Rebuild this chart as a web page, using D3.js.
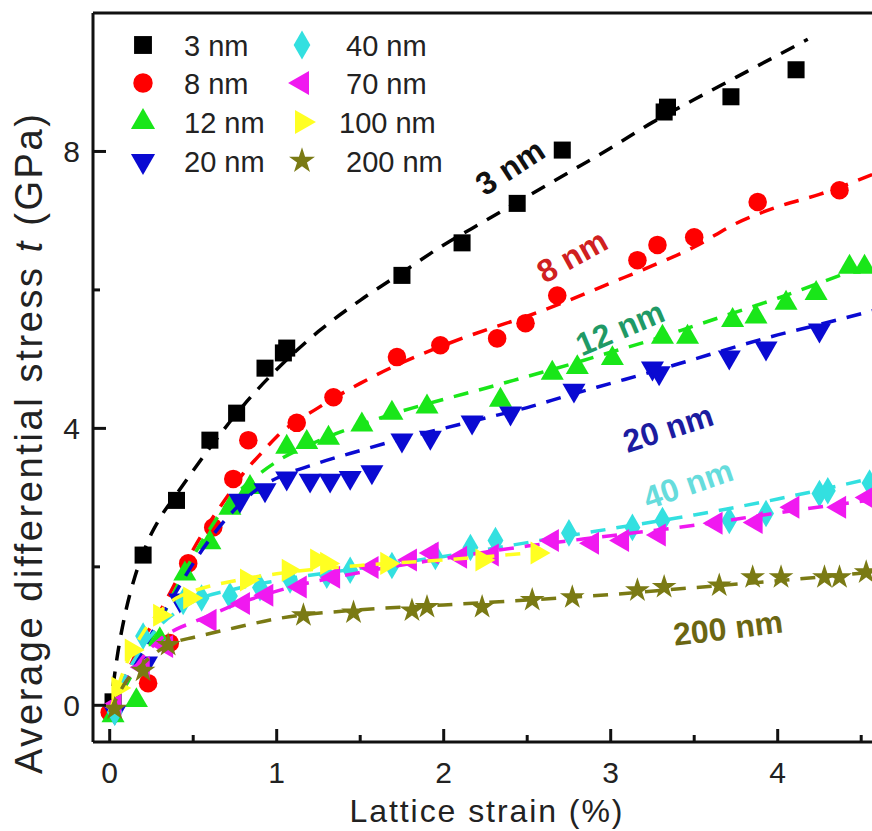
<!DOCTYPE html>
<html>
<head>
<meta charset="utf-8">
<script src="https://cdn.jsdelivr.net/npm/d3@7"></script>
<style>
  body { margin: 0; background: #fff; }
  text { font-family: "Liberation Sans", Arial, sans-serif; }
</style>
</head>
<body>
<div id="chart"></div>
<script>
// Sizes in the legend
const sizeLabels = ["3 nm", "8 nm", "12 nm", "20 nm", "40 nm", "70 nm", "100 nm", "200 nm"];

const pts3 = [[0.02, 0.05], [0.2, 2.17], [0.4, 2.96], [0.6, 3.83], [0.76, 4.22], [0.93, 4.87], [1.04, 5.09], [1.06, 5.16],
  [1.75, 6.21], [2.11, 6.68], [2.44, 7.25], [2.71, 8.02], [3.32, 8.57], [3.34, 8.64], [3.72, 8.79], [4.11, 9.18]];
const pts8 = [[0.0, -0.1], [0.23, 0.32], [0.36, 0.9], [0.47, 2.05], [0.62, 2.57], [0.74, 3.27], [0.83, 3.83], [1.12, 4.08],
  [1.34, 4.45], [1.72, 5.03], [1.98, 5.2], [2.32, 5.3], [2.49, 5.52], [2.68, 5.92], [3.16, 6.43], [3.28, 6.65],
  [3.5, 6.76], [3.88, 7.27], [4.37, 7.44]];
const pts12 = [[0.02, -0.15], [0.16, 0.07], [0.3, 0.95], [0.45, 1.9], [0.6, 2.35], [0.72, 2.85], [0.84, 3.15], [1.06, 3.73],
  [1.18, 3.8], [1.31, 3.86], [1.51, 4.05], [1.69, 4.22], [1.9, 4.31], [2.34, 4.41], [2.65, 4.8], [2.8, 4.88],
  [3.01, 5.01], [3.31, 5.32], [3.46, 5.32], [3.73, 5.56], [3.87, 5.61], [4.05, 5.81], [4.23, 5.95], [4.43, 6.33], [4.52, 6.33]];
const pts20 = [[0.03, -0.1], [0.22, 0.61], [0.42, 1.52], [0.78, 2.96], [0.93, 3.11], [1.06, 3.28], [1.2, 3.25], [1.32, 3.25],
  [1.44, 3.29], [1.57, 3.37], [1.75, 3.83], [1.92, 3.87], [2.17, 4.09], [2.4, 4.22], [2.78, 4.55], [3.25, 4.87],
  [3.29, 4.8], [3.71, 5.03], [3.93, 5.16], [4.25, 5.42]];
const pts40 = [[0.03, -0.1], [0.2, 1.0], [0.44, 1.5], [0.55, 1.55], [0.72, 1.58], [0.9, 1.7], [1.08, 1.81], [1.3, 1.88],
  [1.44, 1.95], [1.69, 2.02], [1.95, 2.15], [2.16, 2.28], [2.31, 2.38], [2.75, 2.49], [3.13, 2.57], [3.31, 2.67],
  [3.71, 2.67], [3.93, 2.77], [4.25, 3.06], [4.3, 3.1], [4.55, 3.21]];
const pts70 = [[0.03, 0.0], [0.2, 0.55], [0.34, 0.85], [0.6, 1.23], [0.8, 1.47], [0.94, 1.59], [1.14, 1.71], [1.34, 1.85],
  [1.57, 1.99], [1.8, 2.1], [1.93, 2.2], [2.1, 2.14], [2.29, 2.17], [2.65, 2.38], [2.89, 2.34], [3.07, 2.38],
  [3.29, 2.46], [3.63, 2.63], [3.87, 2.64], [4.09, 2.86], [4.37, 2.86], [4.54, 3.0]];
const pts100 = [[0.05, 0.25], [0.13, 0.8], [0.3, 1.3], [0.48, 1.55], [0.82, 1.81], [1.07, 1.95], [1.24, 2.1], [1.3, 2.05],
  [1.66, 2.05], [2.23, 2.1], [2.56, 2.2]];
const pts200 = [[0.03, -0.05], [0.2, 0.5], [0.35, 0.87], [1.16, 1.3], [1.46, 1.34], [1.81, 1.37], [1.9, 1.42], [2.23, 1.42],
  [2.53, 1.52], [2.77, 1.56], [3.16, 1.66], [3.32, 1.71], [3.65, 1.73], [3.85, 1.85], [4.02, 1.85], [4.28, 1.85],
  [4.37, 1.85], [4.53, 1.92]];

// Fitted curves (dashed)
const fit3 = [[0, -0.1], [0.05, 0.78], [0.1, 1.4], [0.15, 1.85], [0.2, 2.2], [0.25, 2.48], [0.3, 2.7], [0.4, 3.05],
  [0.6, 3.72], [0.8, 4.33], [1.0, 4.85], [1.25, 5.4], [1.5, 5.85], [1.75, 6.25], [2.0, 6.65], [2.25, 7.0], [2.5, 7.35],
  [2.75, 7.7], [3.0, 8.05], [3.25, 8.42], [3.5, 8.75], [3.75, 9.07], [4.0, 9.39], [4.18, 9.62]];
const fit8 = [[0, -0.1], [0.1, 0.45], [0.2, 0.95], [0.3, 1.35], [0.4, 1.8], [0.5, 2.25], [0.6, 2.65], [0.7, 3.0], [0.8, 3.35],
  [0.9, 3.62], [1.0, 3.88], [1.25, 4.3], [1.5, 4.65], [1.75, 4.95], [2.0, 5.2], [2.25, 5.42], [2.5, 5.62],
  [2.75, 5.85], [3.0, 6.1], [3.25, 6.35], [3.5, 6.62], [3.75, 6.96], [4.0, 7.2], [4.25, 7.38], [4.6, 7.7]];
const fit12 = [[0, -0.1], [0.1, 0.3], [0.2, 0.75], [0.3, 1.2], [0.4, 1.7], [0.5, 2.15], [0.6, 2.55], [0.7, 2.9], [0.8, 3.15],
  [0.9, 3.35], [1.0, 3.52], [1.25, 3.82], [1.5, 4.05], [1.75, 4.25], [2.0, 4.42], [2.25, 4.58], [2.5, 4.75],
  [2.75, 4.92], [3.0, 5.1], [3.25, 5.28], [3.5, 5.48], [3.75, 5.68], [4.0, 5.88], [4.25, 6.1], [4.6, 6.42]];
const fit20 = [[0, -0.1], [0.1, 0.35], [0.2, 0.8], [0.3, 1.25], [0.4, 1.65], [0.5, 2.05], [0.6, 2.4], [0.7, 2.7], [0.8, 2.95],
  [0.9, 3.15], [1.0, 3.28], [1.25, 3.5], [1.5, 3.68], [1.75, 3.85], [2.0, 4.0], [2.25, 4.15], [2.5, 4.3],
  [2.75, 4.48], [3.0, 4.65], [3.25, 4.82], [3.5, 5.0], [3.75, 5.18], [4.0, 5.35], [4.25, 5.5], [4.6, 5.72]];
const fit40 = [[0, -0.1], [0.1, 0.45], [0.2, 0.85], [0.3, 1.15], [0.4, 1.35], [0.5, 1.5], [0.75, 1.68], [1.0, 1.8],
  [1.5, 1.98], [2.0, 2.15], [2.5, 2.35], [3.0, 2.55], [3.5, 2.75], [4.0, 2.98], [4.6, 3.3]];
const fit70 = [[0, -0.1], [0.1, 0.35], [0.2, 0.7], [0.3, 0.95], [0.4, 1.1], [0.5, 1.2], [0.75, 1.45], [1.0, 1.65],
  [1.5, 1.92], [2.0, 2.12], [2.5, 2.3], [3.0, 2.45], [3.5, 2.6], [4.0, 2.78], [4.6, 2.98]];
const fit100 = [[0, -0.1], [0.1, 0.6], [0.2, 1.05], [0.3, 1.35], [0.4, 1.55], [0.5, 1.65], [0.75, 1.8], [1.0, 1.9],
  [1.5, 2.02], [2.0, 2.1], [2.6, 2.22]];
const fit200 = [[0, -0.1], [0.1, 0.35], [0.2, 0.6], [0.3, 0.8], [0.4, 0.92], [0.5, 0.98], [0.75, 1.12], [1.0, 1.25],
  [1.5, 1.38], [2.0, 1.45], [2.5, 1.52], [3.0, 1.6], [3.5, 1.7], [4.0, 1.8], [4.6, 1.93]];

// Axis ticks
const xTicks = [0, 1, 2, 3, 4];
const xMinor = [0.5, 1.5, 2.5, 3.5, 4.5];
const yTicks = [0, 4, 8];
const yMinor = [2, 6];

// Set dimensions
const width = 872;
const height = 831;
const margin = { top: 13, left: 93, bottom: 89 };

const svg = d3.select("#chart")
  .append("svg")
  .attr("width", width)
  .attr("height", height);

// Scales
const x = d3.scaleLinear().domain([-0.1, 4.6]).range([margin.left, margin.left + 4.7 * 167]);
const y = d3.scaleLinear().domain([-0.53, 10]).range([height - margin.bottom, margin.top]);

// Series styling
const series = [
  { pts: pts3, fit: fit3, color: "#000000", shape: d3.symbolSquare, size: 290, rot: 0 },
  { pts: pts8, fit: fit8, color: "#ff0000", shape: d3.symbolCircle, size: 270, rot: 0 },
  { pts: pts12, fit: fit12, color: "#19e619", shape: d3.symbolTriangle, size: 230, rot: 0 },
  { pts: pts20, fit: fit20, color: "#0a0ad2", shape: d3.symbolTriangle, size: 230, rot: 180 },
  { pts: pts40, fit: fit40, color: "#33e0e0", shape: d3.symbolDiamond, size: 220, rot: 0 },
  { pts: pts70, fit: fit70, color: "#f019f0", shape: d3.symbolTriangle, size: 230, rot: -90 },
  { pts: pts100, fit: fit100, color: "#ffff22", shape: d3.symbolTriangle, size: 230, rot: 90 },
  { pts: pts200, fit: fit200, color: "#7a7a14", shape: d3.symbolStar, size: 190, rot: 0 }
];

// Clip to the plot frame
svg.append("clipPath").attr("id", "plot")
  .append("rect")
  .attr("x", margin.left).attr("y", margin.top)
  .attr("width", width - margin.left).attr("height", height - margin.bottom - margin.top);

const plot = svg.append("g").attr("clip-path", "url(#plot)");

const line = d3.line()
  .x(d => x(d[0]))
  .y(d => y(d[1]))
  .curve(d3.curveMonotoneX);

series.forEach(s => {
  plot.append("path")
    .attr("d", line(s.fit))
    .attr("fill", "none")
    .attr("stroke", s.color)
    .attr("stroke-width", 3.5)
    .attr("stroke-dasharray", "15 11");

  plot.selectAll(null)
    .data(s.pts)
    .enter()
    .append("path")
    .attr("d", d3.symbol().type(s.shape).size(s.size))
    .attr("transform", d => `translate(${x(d[0])},${y(d[1])}) rotate(${s.rot})`)
    .attr("fill", s.color);
});

// Frame: left axis, bottom axis and top border
const axisColor = "#111";
svg.append("line")
  .attr("x1", margin.left).attr("x2", margin.left)
  .attr("y1", margin.top).attr("y2", height - margin.bottom)
  .attr("stroke", axisColor).attr("stroke-width", 3);
svg.append("line")
  .attr("x1", margin.left).attr("x2", width)
  .attr("y1", height - margin.bottom).attr("y2", height - margin.bottom)
  .attr("stroke", axisColor).attr("stroke-width", 3);
svg.append("line")
  .attr("x1", margin.left).attr("x2", width)
  .attr("y1", margin.top).attr("y2", margin.top)
  .attr("stroke", axisColor).attr("stroke-width", 3);

// X ticks (inward)
svg.selectAll(".xt")
  .data(xTicks.concat(xMinor))
  .enter()
  .append("line")
  .attr("x1", d => x(d)).attr("x2", d => x(d))
  .attr("y1", height - margin.bottom)
  .attr("y2", d => height - margin.bottom - (xTicks.includes(d) ? 13 : 7))
  .attr("stroke", axisColor).attr("stroke-width", 3);

svg.selectAll(".xl")
  .data(xTicks)
  .enter()
  .append("text")
  .attr("x", d => x(d))
  .attr("y", 783)
  .attr("text-anchor", "middle")
  .style("font-size", "30px")
  .style("fill", "#222")
  .text(d => d);

// Y ticks (inward)
svg.selectAll(".yt")
  .data(yTicks.concat(yMinor))
  .enter()
  .append("line")
  .attr("x1", margin.left)
  .attr("x2", d => margin.left + (yTicks.includes(d) ? 13 : 7))
  .attr("y1", d => y(d)).attr("y2", d => y(d))
  .attr("stroke", axisColor).attr("stroke-width", 3);

svg.selectAll(".yl")
  .data(yTicks)
  .enter()
  .append("text")
  .attr("x", 80)
  .attr("y", d => y(d) + 11)
  .attr("text-anchor", "end")
  .style("font-size", "30px")
  .style("fill", "#222")
  .text(d => d);

// Axis titles
svg.append("text")
  .attr("x", 486)
  .attr("y", 822)
  .attr("text-anchor", "middle")
  .attr("textLength", 273)
  .style("font-size", "32px")
  .style("fill", "#222")
  .text("Lattice strain (%)");

const yTitle = svg.append("text")
  .attr("transform", "translate(42,444) rotate(-90)")
  .attr("text-anchor", "middle")
  .attr("textLength", 660)
  .style("font-size", "38px")
  .style("fill", "#222");
yTitle.append("tspan").text("Average differential stress ");
yTitle.append("tspan").style("font-style", "italic").text("t");
yTitle.append("tspan").text(" (GPa)");

// Legend
const legend = svg.append("g");
sizeLabels.forEach((lab, i) => {
  const s = series[i];
  const col = Math.floor(i / 4);
  const row = i % 4;
  const ly = [45, 83, 122, 161][row];
  const sx = col === 0 ? 143 : 302;
  legend.append("path")
    .attr("d", d3.symbol().type(s.shape).size(s.size * 1.1))
    .attr("transform", `translate(${sx},${ly}) rotate(${s.rot})`)
    .attr("fill", s.color);
  legend.append("text")
    .attr("x", col === 0 ? 184 : (lab === "100 nm" ? 339 : 346))
    .attr("y", ly + 11)
    .style("font-size", "29px")
    .style("fill", "#222")
    .text(lab);
});

// Curve annotations
const notes = [
  { text: "3 nm", cx: 510, cy: 167, angle: -33, color: "#111" },
  { text: "8 nm", cx: 572, cy: 256, angle: -29, color: "#d02020" },
  { text: "12 nm", cx: 620, cy: 328, angle: -23, color: "#1f9a66" },
  { text: "20 nm", cx: 668, cy: 428, angle: -18, color: "#1c1ca0" },
  { text: "40 nm", cx: 688, cy: 484, angle: -19, color: "#66dcdc" },
  { text: "200 nm", cx: 728, cy: 628, angle: -7, color: "#6b6612" }
];
notes.forEach(n => {
  svg.append("text")
    .attr("transform", `translate(${n.cx},${n.cy}) rotate(${n.angle})`)
    .attr("text-anchor", "middle")
    .attr("dy", "0.35em")
    .style("font-size", "32px")
    .style("font-weight", "bold")
    .style("fill", n.color)
    .text(n.text);
});
</script>
</body>
</html>
